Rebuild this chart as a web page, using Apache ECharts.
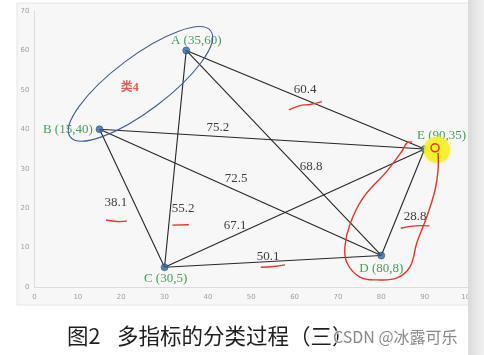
<!DOCTYPE html>
<html><head><meta charset="utf-8">
<script src="https://cdn.jsdelivr.net/npm/echarts@6/dist/echarts.min.js"></script>
<style>html,body{margin:0;padding:0;background:#fff}#c{width:484px;height:355px}</style>
</head><body><div id="c"></div>
<script>
// ---- data ----
const nodeNames = ['A', 'B', 'C', 'D', 'E'];
const nodeX = [35, 15, 30, 80, 90];
const nodeY = [60, 40, 5, 8, 35];
const edgeFrom = ['A', 'B', 'A', 'B', 'B', 'A', 'C', 'C', 'D'];
const edgeTo   = ['E', 'E', 'D', 'D', 'C', 'C', 'E', 'D', 'E'];
const edgeDist = [60.4, 75.2, 68.8, 72.5, 38.1, 55.2, 67.1, 50.1, 28.8];
// anchor of each distance label (data units)
const edgeLabelX = [62.4, 42.3, 63.8, 46.5, 18.8, 34.3, 46.3, 53.9, 87.8];
const edgeLabelY = [50.0, 40.4, 30.5, 27.4, 21.3, 19.8, 15.7, 7.6, 17.8];
const clusterText = '类4';
const clusterAt = [22.0, 50.6];
const clusterEllipseCenter = [24.45, 51.5];
const captionLeft = '图2';
const captionRight = '多指标的分类过程（三）';
const watermark = 'CSDN @冰露可乐';

// hand-drawn annotation strokes (data units)
const loopPath = [[87.1,36.8],[85.9,36.5],[84.8,34.5],[81.3,29.4],[75.8,22.6],[72.8,16.0],[71.6,10.2],[72.1,6.1],[75.1,2.5],[79.0,1.8],[83.6,2.3],[86.6,5.1],[88.2,11.2],[90.5,17.8],[92.4,24.6],[93.1,29.7],[93.1,34.0]];
const underlines = [
  [[58.7,44.9],[61.2,46.0],[63.6,46.3],[66.3,47.0]],
  [[16.5,17.0],[19.0,16.6],[21.3,16.7]],
  [[31.8,15.7],[35.6,15.8]],
  [[52.2,5.0],[55.1,5.2],[57.8,5.6]],
  [[84.5,14.9],[87.8,15.5],[91.1,15.5]]
];
const markAt = [92.4, 35.3];
const glowAt = [92.85, 34.8];

// ---- layout ----
const nodeLabelLayout = {
  A: {position: 'top', distance: 3, offset: [10, 3]},
  B: {position: 'left', distance: 3, offset: [0, 0]},
  C: {position: 'bottom', distance: 1, offset: [1, 0]},
  D: {position: 'bottom', distance: 3, offset: [0, 0]},
  E: {position: 'top', distance: 3, offset: [17, 0]}
};
const serif = '"Liberation Serif", "DejaVu Serif", serif';

const idx = n => nodeNames.indexOf(n);
const chart = echarts.init(document.getElementById('c'), null, {renderer: 'canvas'});

const axisCommon = {
  type: 'value',
  axisLine: {show: true, lineStyle: {color: '#dcdcdc', width: 1}},
  axisTick: {show: false},
  splitLine: {show: false},
  axisLabel: {fontSize: 7, color: '#a0a0a0', fontFamily: 'DejaVu Sans'}
};

chart.setOption({
  backgroundColor: '#ffffff',
  animation: false,
  grid: {left: 34.5, right: 16, top: 11, bottom: 68, containLabel: false},
  xAxis: Object.assign({}, axisCommon, {min: 0, max: 100, interval: 10,
    axisLabel: Object.assign({}, axisCommon.axisLabel, {margin: 7})}),
  yAxis: Object.assign({}, axisCommon, {min: 0, max: 70, interval: 10,
    axisLabel: Object.assign({}, axisCommon.axisLabel, {margin: 5})}),
  series: [
    {
      type: 'lines',
      coordinateSystem: 'cartesian2d',
      z: 3,
      lineStyle: {color: '#262626', width: 1.1, opacity: 1},
      data: edgeFrom.map((f, i) => ({
        coords: [[nodeX[idx(f)], nodeY[idx(f)]], [nodeX[idx(edgeTo[i])], nodeY[idx(edgeTo[i])]]]
      }))
    },
    {
      type: 'scatter',
      z: 5,
      symbolSize: 7,
      itemStyle: {color: '#3567a8', borderColor: '#1f3f70', borderWidth: 0.6},
      data: nodeNames.map((n, i) => ({
        value: [nodeX[i], nodeY[i]],
        label: Object.assign({
          show: true,
          formatter: n + ' (' + nodeX[i] + ',' + nodeY[i] + ')',
          color: '#1d8436', fontSize: 13, fontFamily: serif
        }, nodeLabelLayout[n])
      }))
    },
    {
      type: 'scatter',
      z: 6,
      symbolSize: 1,
      itemStyle: {color: 'rgba(0,0,0,0)'},
      label: {show: true, position: 'inside', color: '#0d0d0d', fontSize: 13, fontFamily: serif,
        formatter: p => p.data.value[2].toFixed(1)},
      data: edgeDist.map((d, i) => ({value: [edgeLabelX[i], edgeLabelY[i], d]}))
    },
    {
      type: 'scatter',
      z: 6,
      symbolSize: 1,
      itemStyle: {color: 'rgba(0,0,0,0)'},
      label: {show: true, position: 'inside', color: '#d63a2c', fontSize: 12, fontWeight: 'bold',
        fontFamily: '"Liberation Serif", "Noto Sans CJK SC", serif', formatter: clusterText},
      data: [{value: clusterAt}]
    }
  ]
});

const px = p => chart.convertToPixel({xAxisIndex: 0, yAxisIndex: 0}, p);
const red = '#e5342a';
const ellC = px(clusterEllipseCenter);
const graphics = [
  {type: 'rect', id: 'panel', z: -100, silent: true,
    shape: {x: 17, y: 3, width: 452, height: 302},
    style: {fill: '#f7f7f7', stroke: '#e4e4e4', lineWidth: 1}},
  {type: 'rect', id: 'strip', z: 100, silent: true,
    shape: {x: 468, y: 0, width: 16, height: 355},
    style: {fill: new echarts.graphic.LinearGradient(0, 0, 1, 0, [
      {offset: 0, color: '#dadada'}, {offset: 1, color: '#f1f1f1'}])}},
  {type: 'ellipse', id: 'ell', z: 50, x: ellC[0], y: ellC[1], rotation: 37 * Math.PI / 180,
    shape: {cx: 0, cy: 0, rx: 88, ry: 27},
    style: {fill: null, stroke: '#3d5d90', lineWidth: 1.1}},
  {type: 'circle', id: 'glow', z: 40, shape: (function(){const c = px(glowAt); return {cx: c[0], cy: c[1], r: 13};})(),
    style: {fill: 'rgba(246,238,40,0.85)', shadowBlur: 4, shadowColor: 'rgba(246,238,40,0.8)'}},
  {type: 'circle', id: 'mark', z: 60, shape: (function(){const c = px(markAt); return {cx: c[0], cy: c[1], r: 4};})(),
    style: {fill: null, stroke: red, lineWidth: 1.5}},
  {type: 'polyline', id: 'loop', z: 60, shape: {points: loopPath.map(px), smooth: 0.4},
    style: {fill: null, stroke: red, lineWidth: 1.4}},
  {type: 'text', id: 'cap1', z: 80, x: 67, y: 336,
    style: {text: captionLeft, fontSize: 21.5, fontFamily: '"Noto Sans CJK SC"', fill: '#1e1e1e', textVerticalAlign: 'middle', verticalAlign: 'middle'}},
  {type: 'text', id: 'cap2', z: 80, x: 117, y: 336,
    style: {text: captionRight, fontSize: 21.5, fontFamily: '"Noto Sans CJK SC"', fill: '#1e1e1e', textVerticalAlign: 'middle', verticalAlign: 'middle'}},
  {type: 'text', id: 'wm', z: 90, x: 333, y: 337,
    style: {text: watermark, fontSize: 16, fontFamily: '"Noto Sans CJK SC"', fill: 'rgba(130,130,130,0.95)',
      stroke: 'rgba(255,255,255,0.7)', lineWidth: 2, textVerticalAlign: 'middle', verticalAlign: 'middle'}}
];
underlines.forEach((u, i) => graphics.push({type: 'polyline', id: 'ul' + i, z: 60,
  shape: {points: u.map(px), smooth: 0.4}, style: {fill: null, stroke: red, lineWidth: 1.4}}));
chart.setOption({graphic: graphics});
</script>
</body></html>
